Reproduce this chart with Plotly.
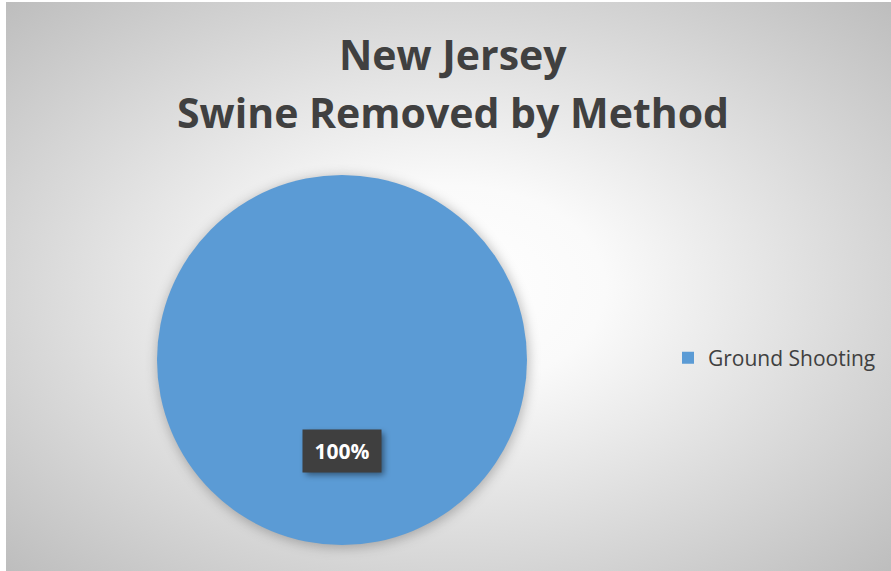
import base64
import plotly.graph_objects as go

# ---- data ----
labels = ["Ground Shooting"]
values = [100]
title_lines = ["New Jersey", "Swine Removed by Method"]

W, H = 891, 571
blue = "#5B9BD5"
text_color = "#404040"

pct_text = [f"{round(100 * v / sum(values))}%" for v in values]

# pie geometry (pixels)
cx, cy, r = 342, 360, 185

bg_svg = f"""<svg xmlns='http://www.w3.org/2000/svg' width='{W}' height='{H}' viewBox='0 0 {W} {H}'>
<defs>
<radialGradient id='g' cx='50%' cy='50%' r='71%'>
<stop offset='0' stop-color='#ffffff'/>
<stop offset='0.25' stop-color='#fafafa'/>
<stop offset='1' stop-color='#bdbdbd'/>
</radialGradient>
<filter id='b' x='-20%' y='-20%' width='140%' height='140%'><feGaussianBlur stdDeviation='6'/></filter>
</defs>
<rect x='0' y='0' width='{W}' height='{H}' fill='#ffffff'/>
<rect x='6' y='2' width='{W-6}' height='{H-2}' fill='url(#g)'/>
<circle cx='{cx+1}' cy='{cy+2}' r='{r+1}' fill='#000' fill-opacity='0.25' filter='url(#b)'/>
</svg>"""
bg_uri = "data:image/svg+xml;base64," + base64.b64encode(bg_svg.encode()).decode()

# label box shadow
bx, by, bw, bh = 303, 430, 78, 42
sh_svg = f"""<svg xmlns='http://www.w3.org/2000/svg' width='{W}' height='{H}' viewBox='0 0 {W} {H}'>
<defs><filter id='b' x='-50%' y='-50%' width='200%' height='200%'><feGaussianBlur stdDeviation='3'/></filter></defs>
<rect x='{bx+3}' y='{by+3}' width='{bw}' height='{bh}' fill='#000' fill-opacity='0.45' filter='url(#b)'/>
</svg>"""
sh_uri = "data:image/svg+xml;base64," + base64.b64encode(sh_svg.encode()).decode()

fig = go.Figure(
    go.Pie(
        labels=labels,
        values=values,
        marker=dict(colors=[blue], line=dict(width=0)),
        textinfo="none",
        sort=False,
        direction="clockwise",
        hoverinfo="label+percent",
        domain=dict(x=[(cx - r) / W, (cx + r) / W], y=[(H - cy - r) / H, (H - cy + r) / H]),
        showlegend=True,
    )
)

title_font = dict(family="Open Sans", size=41, color=text_color)
annotations = [
    dict(x=453 / W, y=1 - 54 / H, xref="paper", yref="paper", text=f"<b>{title_lines[0]}</b>",
         showarrow=False, font=title_font, xanchor="center", yanchor="middle"),
    dict(x=453 / W, y=1 - 112 / H, xref="paper", yref="paper", text=f"<b>{title_lines[1]}</b>",
         showarrow=False, font=title_font, xanchor="center", yanchor="middle"),
    dict(x=(bx + bw / 2) / W, y=1 - (by + bh / 2) / H, xref="paper", yref="paper",
         text=f"<b>{pct_text[0]}</b>", showarrow=False,
         font=dict(family="Open Sans", size=21, color="#ffffff"),
         bgcolor="#3f3f3f", width=bw, height=bh, borderpad=0,
         xanchor="center", yanchor="middle", align="center", valign="middle"),
]

fig.update_layout(
    width=W,
    height=H,
    margin=dict(l=0, r=0, t=0, b=0),
    paper_bgcolor="rgba(0,0,0,0)",
    plot_bgcolor="rgba(0,0,0,0)",
    showlegend=True,
    legend=dict(
        x=668 / W, y=1 - 358 / H, xanchor="left", yanchor="middle",
        font=dict(family="Open Sans", size=21, color=text_color),
        bgcolor="rgba(0,0,0,0)",
    ),
    annotations=annotations,
    images=[
        dict(source=bg_uri, xref="paper", yref="paper", x=0, y=1, sizex=1, sizey=1,
             xanchor="left", yanchor="top", sizing="stretch", layer="below"),
        dict(source=sh_uri, xref="paper", yref="paper", x=0, y=1, sizex=1, sizey=1,
             xanchor="left", yanchor="top", sizing="stretch", layer="above"),
    ],
)

fig.write_html(
    "out.html",
    config={"displayModeBar": False},
    post_script="document.body.style.margin='0';document.body.style.overflow='hidden';",
)
